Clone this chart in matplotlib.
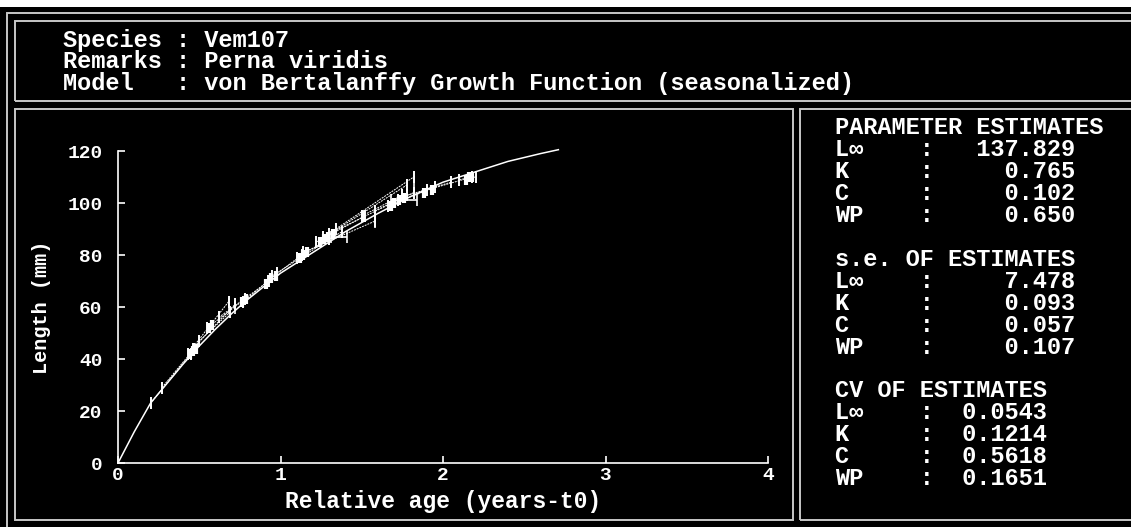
import matplotlib.pyplot as plt
from matplotlib.patches import Rectangle

# screen size in pixels
W, H = 1131, 527

# fitted growth curve (age in years-t0, length in mm)
curve_age = [0, 0.1, 0.2, 0.3, 0.4, 0.5, 0.6, 0.7, 0.8, 0.9, 1.0, 1.2, 1.4,
             1.6, 1.8, 2.0, 2.2, 2.4, 2.6, 2.71]
curve_len = [0, 12, 23, 30.5, 38, 45, 51.5, 57.5, 63, 68, 73, 81, 89,
             96, 102.5, 108, 112, 116, 119, 120.5]

# tag-recapture increments: release age/length -> recapture age/length
rel_age = [0.20, 0.27, 0.43, 0.46, 0.50, 0.55, 0.62, 0.77, 0.92, 0.95, 1.10,
           1.14, 1.22, 1.26, 1.30, 1.34, 1.50, 1.58, 1.66, 1.78, 1.90, 2.10]
rel_len = [23, 29, 42, 44, 47, 52, 56, 62, 70, 72, 79,
           81, 85, 87, 88, 90, 95, 97, 99, 103, 105, 109]
rec_age = [0.45, 0.47, 0.68, 0.72, 0.69, 0.78, 0.93, 0.98, 1.13, 1.30, 1.38,
           1.58, 1.52, 1.72, 1.78, 1.82, 1.75, 1.82, 1.95, 2.05, 2.18, 2.20]
rec_len = [42, 44, 62, 61, 58, 63, 70, 73, 80, 86, 89,
           93, 95, 101, 107, 110, 103, 104, 106, 108, 110, 110]

# extra observations where points pile up
obs_age = [0.44, 0.46, 0.48, 0.56, 0.58, 0.76, 0.79, 0.91, 0.94, 0.97, 1.12,
           1.14, 1.16, 1.24, 1.27, 1.29, 1.32, 1.51, 1.68, 1.70, 1.73, 1.76,
           1.88, 1.93, 2.14, 2.16, 2.18]
obs_len = [42, 43, 44, 52, 53, 62, 63, 69, 71, 72, 79,
           80, 81, 85, 86, 87, 88, 95, 99, 100, 101, 102,
           104, 105, 109, 110, 110]

# error bars
verr_age = [0.68, 0.72, 1.58, 1.82]
verr_len = [60.5, 60, 93, 107]
verr_sd = [3, 2.5, 2.5, 3.5]
herr_age = [1.36, 1.76]
herr_len = [87, 101]
herr_sd = [0.05, 0.08]

header = ["Species : Vem107",
          "Remarks : Perna viridis",
          "Model   : von Bertalanffy Growth Function (seasonalized)"]

params = ["PARAMETER ESTIMATES",
          "L\u221e    :   137.829",
          "K     :     0.765",
          "C     :     0.102",
          "WP    :     0.650",
          "",
          "s.e. OF ESTIMATES",
          "L\u221e    :     7.478",
          "K     :     0.093",
          "C     :     0.057",
          "WP    :     0.107",
          "",
          "CV OF ESTIMATES",
          "L\u221e    :  0.0543",
          "K     :  0.1214",
          "C     :  0.5618",
          "WP    :  0.1651"]

FONT = ['Liberation Mono', 'DejaVu Sans Mono']
FG = 'white'
LINE = '#c8c8c8'


def fx(x):
    return x / W


def fy(y):
    return 1 - y / H


def box(fig, x0, y0, x1, y1):
    fig.add_artist(Rectangle((fx(x0), fy(y1)), fx(x1 - x0), (y1 - y0) / H,
                             transform=fig.transFigure, fill=False,
                             edgecolor=LINE, lw=1.4))


fig = plt.figure(figsize=(W / 100, H / 100), dpi=100, facecolor='black')

# white strip at the top of the screen
fig.add_artist(Rectangle((0, fy(7)), 1, 7 / H, transform=fig.transFigure,
                         facecolor='white', edgecolor='none'))

# frames
box(fig, 7, 13, 1145, 530)
box(fig, 15, 21, 1145, 101)
box(fig, 15, 109, 793, 520)
box(fig, 800, 109, 1145, 520)

# header block as one text so the lines share a single box
fig.text(fx(63), fy(62), "\n".join(header), color=FG, family=FONT,
         weight='bold', fontsize=17, va='center', ha='left', linespacing=0.93)

for i, line in enumerate(params):
    if line:
        fig.text(fx(835), fy(128 + i * 21.9), line, color=FG, family=FONT,
                 weight='bold', fontsize=17, va='center', ha='left')

# growth plot
ax = fig.add_axes([fx(118), fy(463), (768 - 118) / W, (463 - 151) / H])
ax.set_facecolor('black')
ax.set_xlim(0, 4)
ax.set_ylim(0, 120)
for s in ['top', 'right']:
    ax.spines[s].set_visible(False)
for s in ['left', 'bottom']:
    ax.spines[s].set_color(FG)
    ax.spines[s].set_linewidth(1.2)

ax.set_xticks([0, 1, 2, 3, 4])
ax.set_yticks(range(0, 121, 20))
ax.tick_params(axis='both', direction='in', length=5, width=1.2, colors=FG,
               labelsize=14)
ax.tick_params(axis='y', pad=11)
ax.tick_params(axis='x', pad=3)
for lab in ax.get_xticklabels() + ax.get_yticklabels():
    lab.set_family(FONT)
    lab.set_weight('bold')

ax.set_xlabel('Relative age (years-t0)', color=FG, family=FONT,
              weight='bold', fontsize=16.5, labelpad=4)
ax.set_ylabel('Length (mm)', color=FG, family=FONT, weight='bold',
              fontsize=14.5, labelpad=12)

ax.plot(curve_age, curve_len, color=FG, lw=1.1, clip_on=False)

for a0, l0, a1, l1 in zip(rel_age, rel_len, rec_age, rec_len):
    ax.plot([a0, a1], [l0, l1], color=FG, lw=0.7, ls=(0, (2, 1)))

ax.plot(rel_age + rec_age, rel_len + rec_len, ls='none', marker='|',
        ms=8, mew=1.4, color=FG)
ax.plot(obs_age, obs_len, ls='none', marker='|', ms=7, mew=3, color=FG)

ax.errorbar(verr_age, verr_len, yerr=verr_sd, fmt='none', ecolor=FG,
            elinewidth=1.2)
ax.errorbar(herr_age, herr_len, xerr=herr_sd, fmt='none', ecolor=FG,
            elinewidth=1.2, capsize=4, capthick=1.2)

fig.savefig('out.png', dpi=100, facecolor='black')
